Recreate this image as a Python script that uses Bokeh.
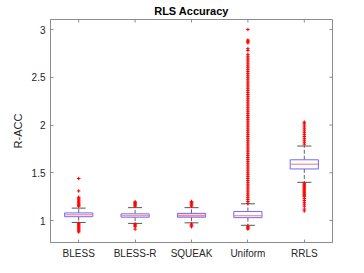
import math
from bokeh.plotting import figure
from bokeh.models import FixedTicker, Range1d, ColumnDataSource
from bokeh.embed import file_html
from bokeh.resources import INLINE

categories = ["BLESS", "BLESS-R", "SQUEAK", "Uniform", "RRLS"]
positions = [1, 2, 3, 4, 5]
q1 = [1.04, 1.035, 1.035, 1.03, 1.54]
median = [1.06, 1.05, 1.05, 1.05, 1.59]
q3 = [1.08, 1.07, 1.075, 1.094, 1.636]
lower_whisker = [0.98, 0.97, 0.976, 0.95, 1.40]
upper_whisker = [1.13, 1.135, 1.135, 1.175, 1.78]
box_fill = ["white", "white", "#f9d4dc", "white", "white"]

outliers_bless = [1.44, 1.31, 1.244, 1.235, 1.225, 1.215, 1.205, 1.195, 1.185, 1.175,
                  1.165, 1.155, 1.15, 0.97, 0.96, 0.95, 0.94, 0.93, 0.92, 0.91, 0.90,
                  0.89, 0.88]
outliers_blessr = [1.195, 1.19, 1.18, 1.17, 1.16, 1.15, 0.965, 0.955, 0.945, 0.935, 0.91]
outliers_squeak = [1.20, 1.19, 1.18, 1.17, 1.16, 1.15, 0.965, 0.955, 0.945, 0.935]
outliers_uniform = [1.18, 1.20, 1.22, 1.24, 1.26, 1.28, 1.30, 1.32, 1.34, 1.36, 1.38, 1.40,
                    1.42, 1.44, 1.46, 1.48, 1.50, 1.52, 1.54, 1.56, 1.58, 1.60, 1.62, 1.64,
                    1.66, 1.68, 1.70, 1.72, 1.74, 1.76, 1.78, 1.80, 1.82, 1.84, 1.86, 1.88,
                    1.90, 1.92, 1.94, 1.96, 1.98, 2.00, 2.02, 2.04, 2.06, 2.08, 2.10, 2.12,
                    2.14, 2.16, 2.18, 2.20, 2.22, 2.24, 2.26, 2.28, 2.30, 2.32, 2.34, 2.36,
                    2.38, 2.40, 2.42, 2.44, 2.46, 2.48, 2.50, 2.52, 2.54, 2.56, 2.58, 2.60,
                    2.62, 2.64, 2.66, 2.68, 2.70, 2.72, 2.74, 2.78, 2.80, 2.86, 2.87, 2.88,
                    2.89, 3.00, 0.94, 0.93, 0.92, 0.91]
outliers_rrls = [2.03, 2.02, 2.0, 1.98, 1.96, 1.94, 1.92, 1.90, 1.88, 1.86, 1.84, 1.82,
                 1.80, 1.39, 1.38, 1.37, 1.36, 1.35, 1.34, 1.33, 1.32, 1.31, 1.30, 1.29,
                 1.28, 1.27, 1.26, 1.25, 1.23, 1.21, 1.19, 1.17, 1.15, 1.12, 1.10]
all_outliers = [outliers_bless, outliers_blessr, outliers_squeak, outliers_uniform, outliers_rrls]

yticks = [1, 1.5, 2, 2.5, 3]
ytick_labels = ["1", "1.5", "2", "2.5", "3"]

FONT = "Liberation Sans"
AX = "#8c8c8c"
TXT = "#262626"

xr = Range1d(0.5, 5.5)
yr = Range1d(0.77, 3.105)
p = figure(frame_width=282, frame_height=223, output_backend="svg", toolbar_location=None,
           x_range=xr, y_range=yr,
           min_border_left=0, min_border_right=20, min_border_top=0,
           min_border_bottom=0, background_fill_color="white",
           border_fill_color="white")
p.margin = (0, 0, 0, 8)
p.grid.visible = False
p.outline_line_color = AX
p.title.text = "RLS Accuracy"
p.title.align = "center"
p.title.text_font = FONT
p.title.text_font_size = "11px"
p.title.text_font_style = "bold"
p.title.text_color = "#000000"
p.title.standoff = 5
p.title.offset = 0

def style_axis(ax):
    ax.axis_line_color = AX
    ax.major_tick_line_color = AX
    ax.major_tick_in = 3
    ax.major_tick_out = 0
    ax.minor_tick_line_color = None
    ax.major_label_text_font = FONT
    ax.major_label_text_font_size = "10px"
    ax.major_label_text_color = TXT
    ax.major_label_standoff = 5

xa = p.xaxis[0]
xa.ticker = FixedTicker(ticks=positions)
xa.major_label_overrides = {pp: c for pp, c in zip(positions, categories)}
style_axis(xa)
ya = p.yaxis[0]
ya.ticker = FixedTicker(ticks=yticks)
ya.major_label_overrides = {t: l for t, l in zip(yticks, ytick_labels)}
style_axis(ya)
ya.axis_label = "R-ACC"
ya.axis_label_text_font = FONT
ya.axis_label_text_font_size = "11px"
ya.axis_label_text_font_style = "normal"
ya.axis_label_text_color = TXT
ya.axis_label_standoff = 5

# box-style ticks on the top and right edges (half of each dash is clipped by the frame)
p.scatter(x=[xr.end] * len(yticks), y=yticks, marker="dash", size=6, angle=0,
          line_color=AX, line_width=1)
p.scatter(x=positions, y=[yr.end] * len(positions), marker="dash", size=6,
          angle=math.pi / 2, line_color=AX, line_width=1)

src = ColumnDataSource(dict(x=positions, q1=q1, med=median, q3=q3, lw=lower_whisker,
                            uw=upper_whisker, fill=box_fill))
# whiskers
p.segment(x0="x", x1="x", y0="q3", y1="uw", source=src, line_color="#666666",
          line_dash="4 2", line_width=1)
p.segment(x0="x", x1="x", y0="q1", y1="lw", source=src, line_color="#666666",
          line_dash="4 2", line_width=1)
# caps
p.scatter(x="x", y="uw", marker="dash", size=14, angle=0, source=src,
          line_color="#555555", line_width=1)
p.scatter(x="x", y="lw", marker="dash", size=14, angle=0, source=src,
          line_color="#555555", line_width=1)
# boxes
p.vbar(x="x", width=0.5, bottom="q1", top="q3", source=src, fill_color="fill",
       line_color="#6a6aff", line_width=1)
p.scatter(x="x", y="med", marker="dash", size=28, angle=0, source=src,
          line_color="#ff7070", line_width=1)

ox, oy = [], []
for pos, vals in zip(positions, all_outliers):
    for v in vals:
        ox.append(pos)
        oy.append(v)
p.scatter(x=ox, y=oy, marker="cross", size=3.5, line_color="#ff0000", line_width=1)

open("out.html", "w").write(file_html(p, INLINE))
